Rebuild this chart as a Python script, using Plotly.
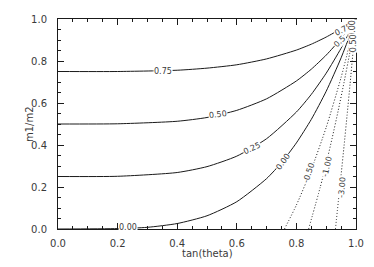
import plotly.graph_objects as go

# ---- data (contour lines of m1/m2 vs tan(theta)) ----
levels = [0.75, 0.50, 0.25, 0.00, -0.50, -1.00, -3.00]

x_075 = [0.0, 0.2, 0.4, 0.5, 0.6, 0.7, 0.8, 0.85, 0.9, 0.95, 1.0]
y_075 = [0.750, 0.750, 0.756, 0.766, 0.782, 0.810, 0.852, 0.880, 0.914, 0.954, 1.0]

x_050 = [0.0, 0.2, 0.4, 0.5, 0.6, 0.7, 0.8, 0.85, 0.9, 0.95, 1.0]
y_050 = [0.500, 0.501, 0.513, 0.531, 0.565, 0.620, 0.705, 0.761, 0.828, 0.907, 1.0]

x_025 = [0.0, 0.2, 0.4, 0.5, 0.6, 0.7, 0.8, 0.85, 0.9, 0.95, 1.0]
y_025 = [0.250, 0.251, 0.269, 0.297, 0.347, 0.430, 0.557, 0.641, 0.742, 0.861, 1.0]

x_000 = [0.0, 0.2, 0.3, 0.4, 0.5, 0.6, 0.7, 0.75, 0.8, 0.85, 0.9, 0.95, 1.0]
y_000 = [0.0, 0.002, 0.008, 0.026, 0.063, 0.130, 0.240, 0.316, 0.410, 0.522, 0.656, 0.815, 1.0]

x_m050 = [0.760, 0.8, 0.85, 0.9, 0.95, 1.0]
y_m050 = [0.0, 0.114, 0.283, 0.484, 0.722, 1.0]

x_m100 = [0.841, 0.88, 0.9, 0.92, 0.94, 0.96, 0.98, 1.0]
y_m100 = [0.0, 0.199, 0.312, 0.433, 0.562, 0.699, 0.845, 1.0]

x_m300 = [0.931, 0.95, 0.96, 0.97, 0.98, 0.99, 1.0]
y_m300 = [0.0, 0.258, 0.397, 0.541, 0.689, 0.843, 1.0]

# contour label positions (x, y, text, angle)
lab_x = [0.352, 0.537, 0.650, 0.756, 0.842, 0.902, 0.952, 0.235, 0.958, 0.945, 0.988, 0.990]
lab_y = [0.750, 0.543, 0.384, 0.322, 0.270, 0.300, 0.200, 0.006, 0.952, 0.895, 0.955, 0.885]
lab_t = ["0.75", "0.50", "0.25", "0.00", "-0.50", "-1.00", "-3.00", "0.00", "0.75", "0.5", "0.00", "0.50"]
lab_a = [0, -6, -25, -55, -72, -77, -85, 0, -28, -45, -90, -90]

x_ticks = [0.0, 0.2, 0.4, 0.6, 0.8, 1.0]
y_ticks = [0.0, 0.2, 0.4, 0.6, 0.8, 1.0]
x_title = "tan(theta)"
y_title = "m1/m2"

LC = "#1a1a1a"
FONT = "DejaVu Sans"
TC = "#3a3a3a"

fig = go.Figure()
series = [
    (x_075, y_075, "solid"),
    (x_050, y_050, "solid"),
    (x_025, y_025, "solid"),
    (x_000, y_000, "solid"),
    (x_m050, y_m050, "1px,2px"),
    (x_m100, y_m100, "1px,2px"),
    (x_m300, y_m300, "1px,2px"),
]
for (xs, ys, dash), lev in zip(series, levels):
    fig.add_trace(go.Scatter(x=xs, y=ys, mode="lines", name=f"{lev:.2f}",
                             line=dict(color=LC, width=1, dash=dash, shape="spline", smoothing=0.6),
                             showlegend=False, hoverinfo="skip", cliponaxis=True))

for x, y, t, a in zip(lab_x, lab_y, lab_t, lab_a):
    fig.add_annotation(x=x, y=y, text=t, textangle=a, showarrow=False,
                       font=dict(family=FONT, size=8, color=TC),
                       bgcolor="white", borderpad=0, xref="x", yref="y")

# axis titles
fig.add_annotation(x=0.5, y=0, xref="paper", yref="paper", text=x_title, showarrow=False,
                   yanchor="top", yshift=-17, font=dict(family=FONT, size=10, color=TC))
fig.add_annotation(x=0, y=0.5, xref="paper", yref="paper", text=y_title, showarrow=False,
                   textangle=-90, xanchor="center", xshift=-29, font=dict(family=FONT, size=10, color=TC))

axis_common = dict(
    range=[0, 1], showgrid=False, zeroline=False, automargin=False,
    showline=True, linecolor=LC, linewidth=1, mirror="allticks",
    ticks="inside", ticklen=6, tickwidth=1, tickcolor=LC,
    tickformat=".1f",
    tickfont=dict(family=FONT, size=10, color=TC),
    minor=dict(ticks="inside", ticklen=3, dtick=0.05, tickcolor=LC, tickwidth=1),
)

# page body adds an 8px offset, so the figure is sized to fit inside the window
fig.update_layout(
    width=366, height=259,
    margin=dict(l=50, r=18, t=11, b=38),
    paper_bgcolor="white", plot_bgcolor="white",
    xaxis=dict(**axis_common, tickvals=x_ticks, ticklabelstandoff=5),
    yaxis=dict(**axis_common, tickvals=y_ticks, ticklabelstandoff=8),
)

fig.write_html("out.html")
